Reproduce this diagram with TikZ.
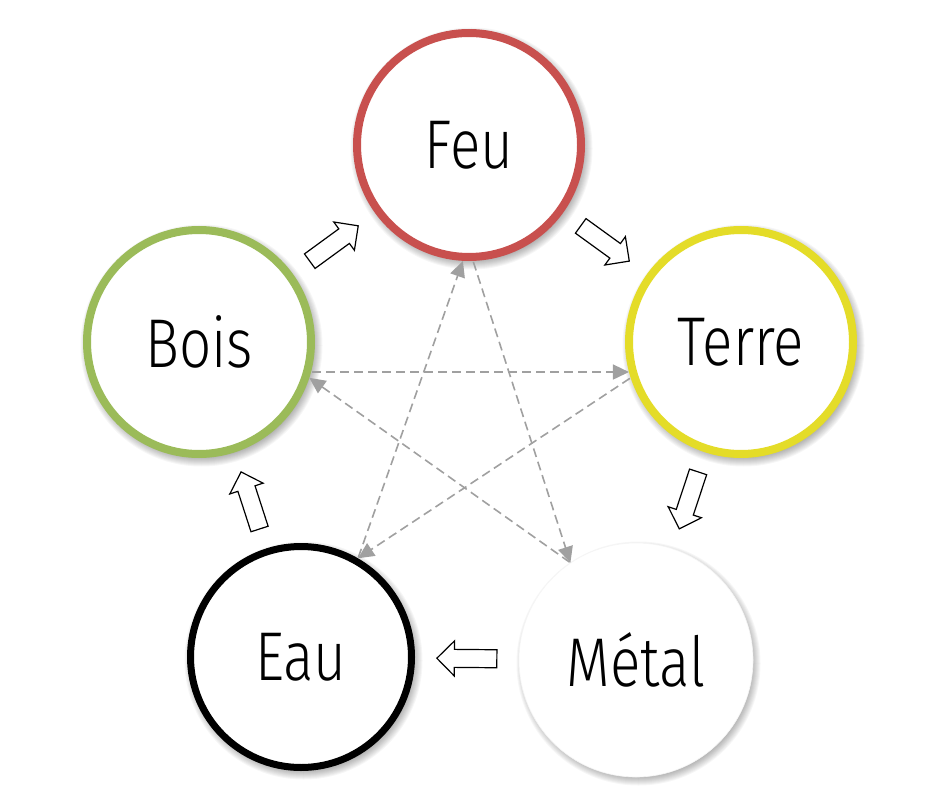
\documentclass[tikz,border=0pt]{standalone}
\usepackage{fontspec}
\newfontfamily\labelfont{Fira Sans Light}[FakeStretch=0.82]
\usetikzlibrary{arrows.meta,backgrounds}
\definecolor{feured}{RGB}{200,80,78}
\definecolor{boisgreen}{RGB}{155,187,89}
\definecolor{terreyellow}{RGB}{228,220,40}
\definecolor{dashgray}{RGB}{160,160,160}
\newcommand\softshadow[2]{%
  \foreach \k in {0,...,9}{%
    \pgfmathsetmacro\rr{#2+5-\k}%
    \fill[black, opacity=0.035] ([shift={(2.5pt,-3.5pt)}]#1.center) circle[radius=\rr pt];
  }}
\begin{document}
\begin{tikzpicture}[x=1pt,y=-1pt,
  element/.style={circle, fill=white, inner sep=0pt, text=black,
    font=\labelfont\fontsize{69}{80}\selectfont},
  ring/.style={element, line width=8pt, minimum size=224pt},
  flowarrow/.pic={\draw[line width=1.2pt, fill=white, line join=miter]
    (-30pt,-9pt) -- (12.5pt,-9pt) -- (12.5pt,-17.5pt) -- (30pt,0pt)
    -- (12.5pt,17.5pt) -- (12.5pt,9pt) -- (-30pt,9pt) -- cycle;},
  flow/.style={pos=0.5, sloped, allow upside down},
  control/.style={draw=dashgray, line width=1.6pt, dash pattern=on 9pt off 5pt,
    -{Triangle[length=16pt,width=15pt]}, shorten <=1pt}
]
\useasboundingbox (0,0) rectangle (947,802);

\node[ring, draw=feured] (feu) at (469,145) {Feu};
\node[ring, draw=terreyellow] (terre) at (741,342) {Terre};
\node[ring, draw=boisgreen] (bois) at (199,342) {Bois};
\node[element, draw=black, line width=7pt, minimum size=221pt] (eau) at (301,657) {Eau};
\node[element, draw=black!4, line width=0.6pt, minimum size=234pt] (metal) at (636,660) {Métal};

\begin{scope}[on background layer]
  \softshadow{feu}{116}
  \softshadow{terre}{116}
  \softshadow{bois}{116}
  \softshadow{eau}{114}
  \softshadow{metal}{117}
\end{scope}

% generating cycle
\path (bois) -- (feu) pic[flow] {flowarrow};
\path (feu) -- (terre) pic[flow] {flowarrow};
\path (terre) -- (metal) pic[flow] {flowarrow};
\path (metal) -- (eau) pic[flow] {flowarrow};
\path (eau) -- (bois) pic[flow] {flowarrow};

% controlling cycle
\draw[control] (bois.-15) -- (terre.195);
\draw[control] (metal.124) -- (bois.-18);
\draw[control] (feu.-88) -- (metal.124);
\draw[control] (eau.60) -- (feu.-93);
\draw[control] (terre.198) -- (eau.60);
\end{tikzpicture}
\end{document}
